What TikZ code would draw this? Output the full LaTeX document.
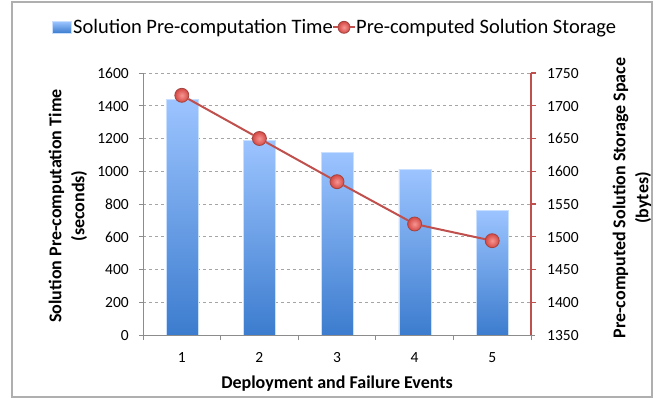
\documentclass[tikz,border=0pt]{standalone}
\usepackage{fontspec}
\setmainfont{Carlito}
\definecolor{barTop}{RGB}{156,196,255}
\definecolor{barBot}{RGB}{60,124,206}
\definecolor{lineRed}{RGB}{192,80,77}
\definecolor{markIn}{RGB}{246,150,146}
\definecolor{markOut}{RGB}{212,72,68}
\definecolor{gridGray}{RGB}{165,165,165}
\definecolor{axisGray}{RGB}{140,140,140}
\definecolor{frameGray}{RGB}{175,175,175}
\begin{document}
\begin{tikzpicture}[x=1pt,y=-1pt,
		every node/.style={anchor=base,inner sep=0pt},
		ticklbl/.style={font=\fontsize{15.5}{18}\selectfont},
		leglbl/.style={font=\fontsize{20.5}{23}\selectfont,anchor=base west},
		axtitle/.style={font=\fontsize{18}{23}\selectfont\bfseries,align=center},
		marker/.style={circle,minimum size=14pt,inner color=markIn,outer color=markOut,draw=lineRed!85!black,line width=0.8pt}]
	\tikzstyle{grid}=[gridGray,dash pattern=on 3pt off 3pt,line width=0.8pt];
	\tikzstyle{bar}=[top color=barTop,bottom color=barBot,draw=barTop!55!white,line width=0.6pt];
	\tikzstyle{series}=[lineRed,line width=2pt];
	\useasboundingbox[fill=white] (0,0) rectangle (659,398);
	\draw[frameGray,line width=1.5pt] (12,2) rectangle (652,397);
	% gridlines
	\draw[grid] (143,302.25) -- (531,302.25);
	\draw[grid] (143,269.5) -- (531,269.5);
	\draw[grid] (143,236.75) -- (531,236.75);
	\draw[grid] (143,204) -- (531,204);
	\draw[grid] (143,171.25) -- (531,171.25);
	\draw[grid] (143,138.5) -- (531,138.5);
	\draw[grid] (143,105.75) -- (531,105.75);
	\draw[grid] (143,73) -- (531,73);
	% bars
	\shade[bar] (166,99.2) rectangle (198,335);
	\shade[bar] (243.6,140.1) rectangle (275.6,335);
	\shade[bar] (321.2,152.4) rectangle (353.2,335);
	\shade[bar] (398.8,169.6) rectangle (430.8,335);
	\shade[bar] (476.4,210.6) rectangle (508.4,335);
	% axes
	\draw[axisGray,line width=0.9pt] (143,73) -- (143,335);
	\draw[axisGray,line width=0.9pt] (139,335) -- (535,335);
	\draw[axisGray,line width=0.9pt] (139,302.25) -- (143,302.25) (139,269.5) -- (143,269.5)
		(139,236.75) -- (143,236.75) (139,204) -- (143,204) (139,171.25) -- (143,171.25)
		(139,138.5) -- (143,138.5) (139,105.75) -- (143,105.75) (139,73) -- (143,73);
	\draw[axisGray,line width=0.9pt] (143,335) -- (143,340) (220.6,335) -- (220.6,340)
		(298.2,335) -- (298.2,340) (375.8,335) -- (375.8,340) (453.4,335) -- (453.4,340)
		(531,335) -- (531,340);
	\draw[lineRed,line width=1.5pt] (531,73) -- (531,335);
	\draw[lineRed,line width=1.2pt] (531,302.25) -- (536,302.25) (531,269.5) -- (536,269.5)
		(531,236.75) -- (536,236.75) (531,204) -- (536,204) (531,171.25) -- (536,171.25)
		(531,138.5) -- (536,138.5) (531,105.75) -- (536,105.75) (531,73) -- (536,73);
	% left tick labels
	\node[ticklbl,anchor=base east] (l0) at (129,340.3) {0};
	\node[ticklbl,anchor=base east] (l200) at (129,307.55) {200};
	\node[ticklbl,anchor=base east] (l400) at (129,274.8) {400};
	\node[ticklbl,anchor=base east] (l600) at (129,242.05) {600};
	\node[ticklbl,anchor=base east] (l800) at (129,209.3) {800};
	\node[ticklbl,anchor=base east] (l1000) at (129,176.55) {1000};
	\node[ticklbl,anchor=base east] (l1200) at (129,143.8) {1200};
	\node[ticklbl,anchor=base east] (l1400) at (129,111.05) {1400};
	\node[ticklbl,anchor=base east] (l1600) at (129,78.3) {1600};
	% right tick labels
	\node[ticklbl,anchor=base west] (r1350) at (547,340.3) {1350};
	\node[ticklbl,anchor=base west] (r1400) at (547,307.55) {1400};
	\node[ticklbl,anchor=base west] (r1450) at (547,274.8) {1450};
	\node[ticklbl,anchor=base west] (r1500) at (547,242.05) {1500};
	\node[ticklbl,anchor=base west] (r1550) at (547,209.3) {1550};
	\node[ticklbl,anchor=base west] (r1600) at (547,176.55) {1600};
	\node[ticklbl,anchor=base west] (r1650) at (547,143.8) {1650};
	\node[ticklbl,anchor=base west] (r1700) at (547,111.05) {1700};
	\node[ticklbl,anchor=base west] (r1750) at (547,78.3) {1750};
	% categories
	\node[ticklbl] (c1) at (181.8,362.8) {1};
	\node[ticklbl] (c2) at (259.4,362.8) {2};
	\node[ticklbl] (c3) at (337,362.8) {3};
	\node[ticklbl] (c4) at (414.6,362.8) {4};
	\node[ticklbl] (c5) at (492.2,362.8) {5};
	% axis titles
	\node[axtitle] (xtitle) at (337,388) {Deployment and Failure Events};
	\node[axtitle,anchor=center,rotate=90] (ytitle) at (68,206) {Solution Pre-computation Time\\(seconds)};
	\node[axtitle,anchor=center,rotate=90] (y2title) at (632,198) {Pre-computed Solution Storage Space\\(bytes)};
	% storage series
	\node[marker,anchor=center] (m1) at (181.8,95.3) {};
	\node[marker,anchor=center] (m2) at (259.4,138.5) {};
	\node[marker,anchor=center] (m3) at (337,181.7) {};
	\node[marker,anchor=center] (m4) at (414.6,224) {};
	\node[marker,anchor=center] (m5) at (492.2,240.7) {};
	\draw[series] (m1) -- (m2) -- (m3) -- (m4) -- (m5);
	% legend
	\shade[bar] (52,21.5) rectangle (71,33);
	\node[leglbl] (leg1) at (73,33.5) {Solution Pre-computation Time};
	\node[marker,anchor=center,minimum size=12pt] (legmark) at (344,27.3) {};
	\coordinate (legL) at (333,27.3);
	\coordinate (legR) at (355,27.3);
	\draw[series] (legL) -- (legmark) -- (legR);
	\node[leglbl] (leg2) at (356,33.5) {Pre-computed Solution Storage};
\end{tikzpicture}
\end{document}
